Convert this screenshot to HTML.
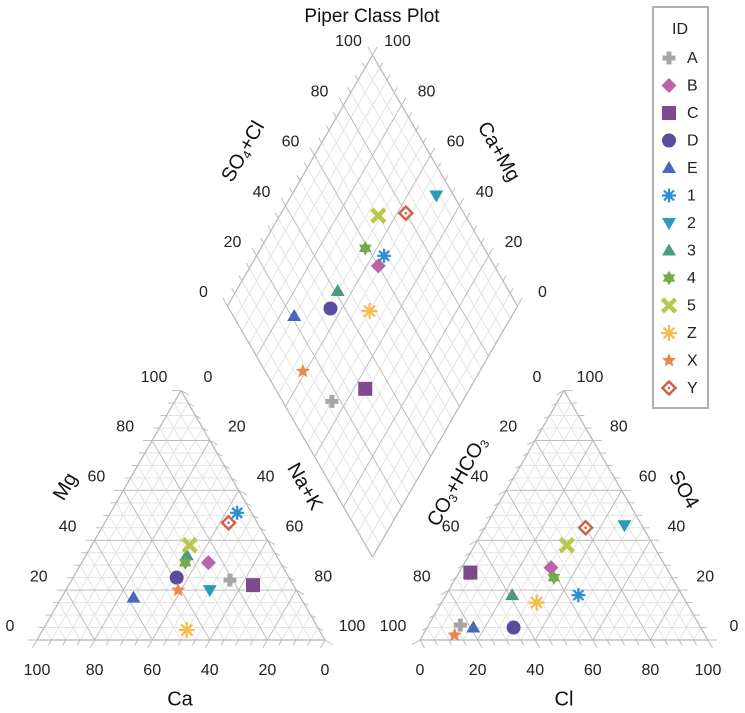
<!DOCTYPE html>
<html><head><meta charset="utf-8"><style>
body{margin:0;background:#fff;}
svg{display:block;font-family:"Liberation Sans",sans-serif;}
.tk{font-size:16px;fill:#222;text-anchor:middle;dominant-baseline:middle;}
.ti{font-size:20px;fill:#111;text-anchor:middle;dominant-baseline:middle;}
</style></head><body>
<svg id="chart" width="745" height="713" viewBox="0 0 745 713">
<g id="grid"></g>
<g id="labels"></g>
<g id="marks"></g>
<text x="372" y="17" class="ti" style="font-size:19px">Piper Class Plot</text>
<g>
<rect x="653" y="7" width="55" height="401" fill="#fff" stroke="#b0b0b0" stroke-width="2"/>
<text x="680" y="30" class="tk">ID</text>
<g id="legend"></g>
</g>
</svg>
<script>
const ids=["A","B","C","D","E","1","2","3","4","5","Z","X","Y"];
const ca=[21,25,14,39,58,5,30,31,33,28,46,41,10];
const mg=[24,31,22,25,17,51,20,34,31,38,4,20,47];
const na=[55,44,64,36,25,44,50,35,36,34,50,39,43];
const cl=[11,31,4,30,16,46,48,23,34,32,33,11,35];
const so4=[6,29,27,5,5,18,46,18,25,38,15,2,45];
const hco3=[83,40,69,65,79,36,6,59,41,30,52,87,20];
const tickVals=[0,20,40,60,80,100];

const NS="http://www.w3.org/2000/svg";
const shapes=["plus","diamond","square","circle","tri","ast8","dtri","tri","star6","x","ast","star5","odiamond"];
const colors=["#a6a6a6","#b865a8","#7e4a8e","#5b4b9d","#4869b7","#2e90d0","#2b9bb8","#4a9a7e","#72ad4c","#b9c84a","#f2bd4a","#e8884c","#d0604e"];
function el(tag,attrs,parent){const e=document.createElementNS(NS,tag);for(const k in attrs)e.setAttribute(k,attrs[k]);parent.appendChild(e);return e;}
const L1={BL:[37,640],BR:[325,640],T:[181,390.6]};
const R1={BL:[420,640],BR:[708,640],T:[564,390.6]};
const DB=[372.5,557],V1=[-145,-251],V2=[145,-251];
function cation(c,m,n){const s=c+m+n;return[(c*L1.BL[0]+m*L1.T[0]+n*L1.BR[0])/s,(c*L1.BL[1]+m*L1.T[1]+n*L1.BR[1])/s];}
function anion(h,c,s4){const s=h+c+s4;return[(h*R1.BL[0]+c*R1.BR[0]+s4*R1.T[0])/s,(h*R1.BL[1]+c*R1.BR[1]+s4*R1.T[1])/s];}
function diamond(cm,sc){return[DB[0]+V1[0]*cm/100+V2[0]*sc/100,DB[1]+V1[1]*cm/100+V2[1]*sc/100];}
const lerp=(a,b,t)=>[a[0]+(b[0]-a[0])*t,a[1]+(b[1]-a[1])*t];
const grid=document.getElementById('grid');
function line(a,b,col,w){const l=el('line',{x1:a[0],y1:a[1],x2:b[0],y2:b[1],stroke:col,'stroke-width':w},grid);

}
function triGrid(P,tickDirs){
 const C=[P.BL,P.BR,P.T];
 for(let pass=0;pass<2;pass++)
 for(let c=0;c<3;c++){const p0=C[c],p1=C[(c+1)%3],p2=C[(c+2)%3];
  for(let k=1;k<20;k++){const maj=k%4===0;if((pass===1)!==maj)continue;const t=k/20;
   line(lerp(p0,p1,t),lerp(p0,p2,t),maj?"#bdbdbd":"#e3e3e3",1);}}
 for(let c=0;c<3;c++)line(C[c],C[(c+1)%3],"#b5b5b5",1.2);
 tickDirs.forEach(([a,b,d])=>{for(let k=0;k<=20;k++){const p=lerp(a,b,k/20);line(p,[p[0]+d[0]*(k%4===0?9:6),p[1]+d[1]*(k%4===0?9:6)],"#bdbdbd",1);}});
}
triGrid(L1,[[L1.BL,L1.T,[-1,0]],[L1.BL,L1.BR,[-0.5,0.87]],[L1.T,L1.BR,[0.87,0.5]]]);
triGrid(R1,[[R1.BR,R1.T,[1,0]],[R1.BL,R1.BR,[0.5,0.87]],[R1.T,R1.BL,[-0.87,0.5]]]);
for(let pass=0;pass<2;pass++)for(let k=1;k<20;k++){const maj=k%4===0;if((pass===1)!==maj)continue;const t=k/20;const col=maj?"#bdbdbd":"#e3e3e3";
 const a=diamond(t*100,0),b=diamond(t*100,100);line(a,b,col,1);
 const c=diamond(0,t*100),d=diamond(100,t*100);line(c,d,col,1);}
const DL=diamond(100,0),DR=diamond(0,100),DT=diamond(100,100);
line(DB,DL,"#b5b5b5",1.2);line(DL,DT,"#b5b5b5",1.2);line(DT,DR,"#b5b5b5",1.2);line(DR,DB,"#b5b5b5",1.2);
for(let k=0;k<=20;k++){const t=k/20*100;const len=k%4===0?9:6;
 const a=diamond(100,t);line(a,[a[0]-0.5*len,a[1]-0.87*len],"#bdbdbd",1);
 const b=diamond(t,100);line(b,[b[0]+0.5*len,b[1]-0.87*len],"#bdbdbd",1);}
const lab=document.getElementById('labels');
function txt(x,y,s,cls,rot,name){const t=el('text',{x:x,y:y,class:cls},lab);if(rot)t.setAttribute('transform',`rotate(${rot} ${x} ${y})`);t.innerHTML=s;

return t;}
tickVals.forEach(v=>{
 let p=cation(100-v,v,0);txt(p[0]-27,p[1]-13,v,'tk',0,'mg-tick-label');
 p=cation(v,0,100-v);txt(p[0],671,v,'tk',0,'ca-tick-label');
 p=cation(0,100-v,v);txt(p[0]+27,p[1]-13,v,'tk',0,'nak-tick-label');
 p=anion(100-v,v,0);txt(p[0],671,v,'tk',0,'cl-tick-label');
 p=anion(v,0,100-v);txt(p[0]-27,p[1]-13,v,'tk',0,'hco3-tick-label');
 p=anion(0,100-v,v);txt(p[0]+26,p[1]-13,v,'tk',0,'so4-tick-label');
 p=diamond(100,v);txt(p[0]-24,p[1]-13,v,'tk',0,'so4cl-tick-label');
 p=diamond(v,100);txt(p[0]+25,p[1]-13,v,'tk',0,'camg-tick-label');
});
txt(180,700,'Ca','ti',0,'ca-axis-title');
txt(564,700,'Cl','ti',0,'cl-axis-title');
txt(66,487,'Mg','ti',-60,'mg-axis-title');
txt(304,487,'Na+K','ti',60,'nak-axis-title');
txt(683,490,'SO4','ti',60,'so4-axis-title');
txt(458,482,'CO<tspan dy="5" font-size="12">3</tspan><tspan dy="-5">+HCO</tspan><tspan dy="5" font-size="12">3</tspan>','ti',-60,'hco3-axis-title');
txt(244,152,'SO<tspan dy="5" font-size="12">4</tspan><tspan dy="-5">+Cl</tspan>','ti',-60,'so4cl-axis-title');
txt(498,152,'Ca+Mg','ti',60,'camg-axis-title');
function marker(parent,shape,col,x,y){const g=el('g',{transform:`translate(${x} ${y})`},parent);
 const s=6.5;
 switch(shape){
 case 'plus':el('path',{d:'M-2.5-6.5h5v4h4v5h-4v4h-5v-4h-4v-5h4z',fill:col},g);break;
 case 'diamond':el('path',{d:`M0 -${s+1}L${s+1} 0L0 ${s+1}L-${s+1} 0z`,fill:col},g);break;
 case 'odiamond':el('path',{d:`M0 -6.5L6.5 0L0 6.5L-6.5 0z`,fill:'#fff',stroke:col,'stroke-width':2.5},g);el('circle',{r:1.3,fill:col},g);break;
 case 'square':el('rect',{x:-7,y:-7,width:14,height:14,fill:col},g);break;
 case 'circle':el('circle',{r:7,fill:col},g);break;
 case 'tri':el('path',{d:'M0 -7L7 5L-7 5z',fill:col},g);break;
 case 'dtri':el('path',{d:'M-7 -5L7 -5L0 7z',fill:col},g);break;
 case 'x':el('path',{d:'M-5 -5L5 5M5 -5L-5 5',stroke:col,'stroke-width':4.5,'stroke-linecap':'square'},g);break;
 case 'ast':el('path',{d:'M0 -8V8M-8 0H8M-5.5 -5.5L5.5 5.5M5.5 -5.5L-5.5 5.5',stroke:col,'stroke-width':2.2},g);break;
 case 'ast8':el('path',{d:'M0 -7V7M-7 0H7M-5 -5L5 5M5 -5L-5 5',stroke:col,'stroke-width':2.2},g);el('circle',{r:3.5,fill:col},g);break;
 case 'star6':{let d='';for(let i=0;i<12;i++){const r=i%2?4.3:7.2,a=Math.PI/6*i-Math.PI/2;d+=(i?'L':'M')+(r*Math.cos(a)).toFixed(2)+' '+(r*Math.sin(a)).toFixed(2);}el('path',{d:d+'z',fill:col},g);break;}
 case 'star5':{let d='';for(let i=0;i<10;i++){const r=i%2?3.3:7.5,a=Math.PI/5*i-Math.PI/2;d+=(i?'L':'M')+(r*Math.cos(a)).toFixed(2)+' '+(r*Math.sin(a)).toFixed(2);}el('path',{d:d+'z',fill:col},g);break;}
 }
 return g;}
const marks=document.getElementById('marks');
ids.forEach((id,i)=>{
 let p=cation(ca[i],mg[i],na[i]);let g=marker(marks,shapes[i],colors[i],p[0],p[1]);
 
 
 p=anion(hco3[i],cl[i],so4[i]);g=marker(marks,shapes[i],colors[i],p[0],p[1]);
 
 
 p=diamond(ca[i]+mg[i],so4[i]+cl[i]);g=marker(marks,shapes[i],colors[i],p[0],p[1]);
 
 
});
const leg=document.getElementById('legend');
ids.forEach((id,i)=>{const y=58+i*27.5;
 const g=marker(leg,shapes[i],colors[i],669,y);
 
 
 const t=el('text',{x:687,y:y+1,class:'tk','text-anchor':'start',style:'text-anchor:start'},leg);t.textContent=id;
 
 
});
</script>
</body></html>
